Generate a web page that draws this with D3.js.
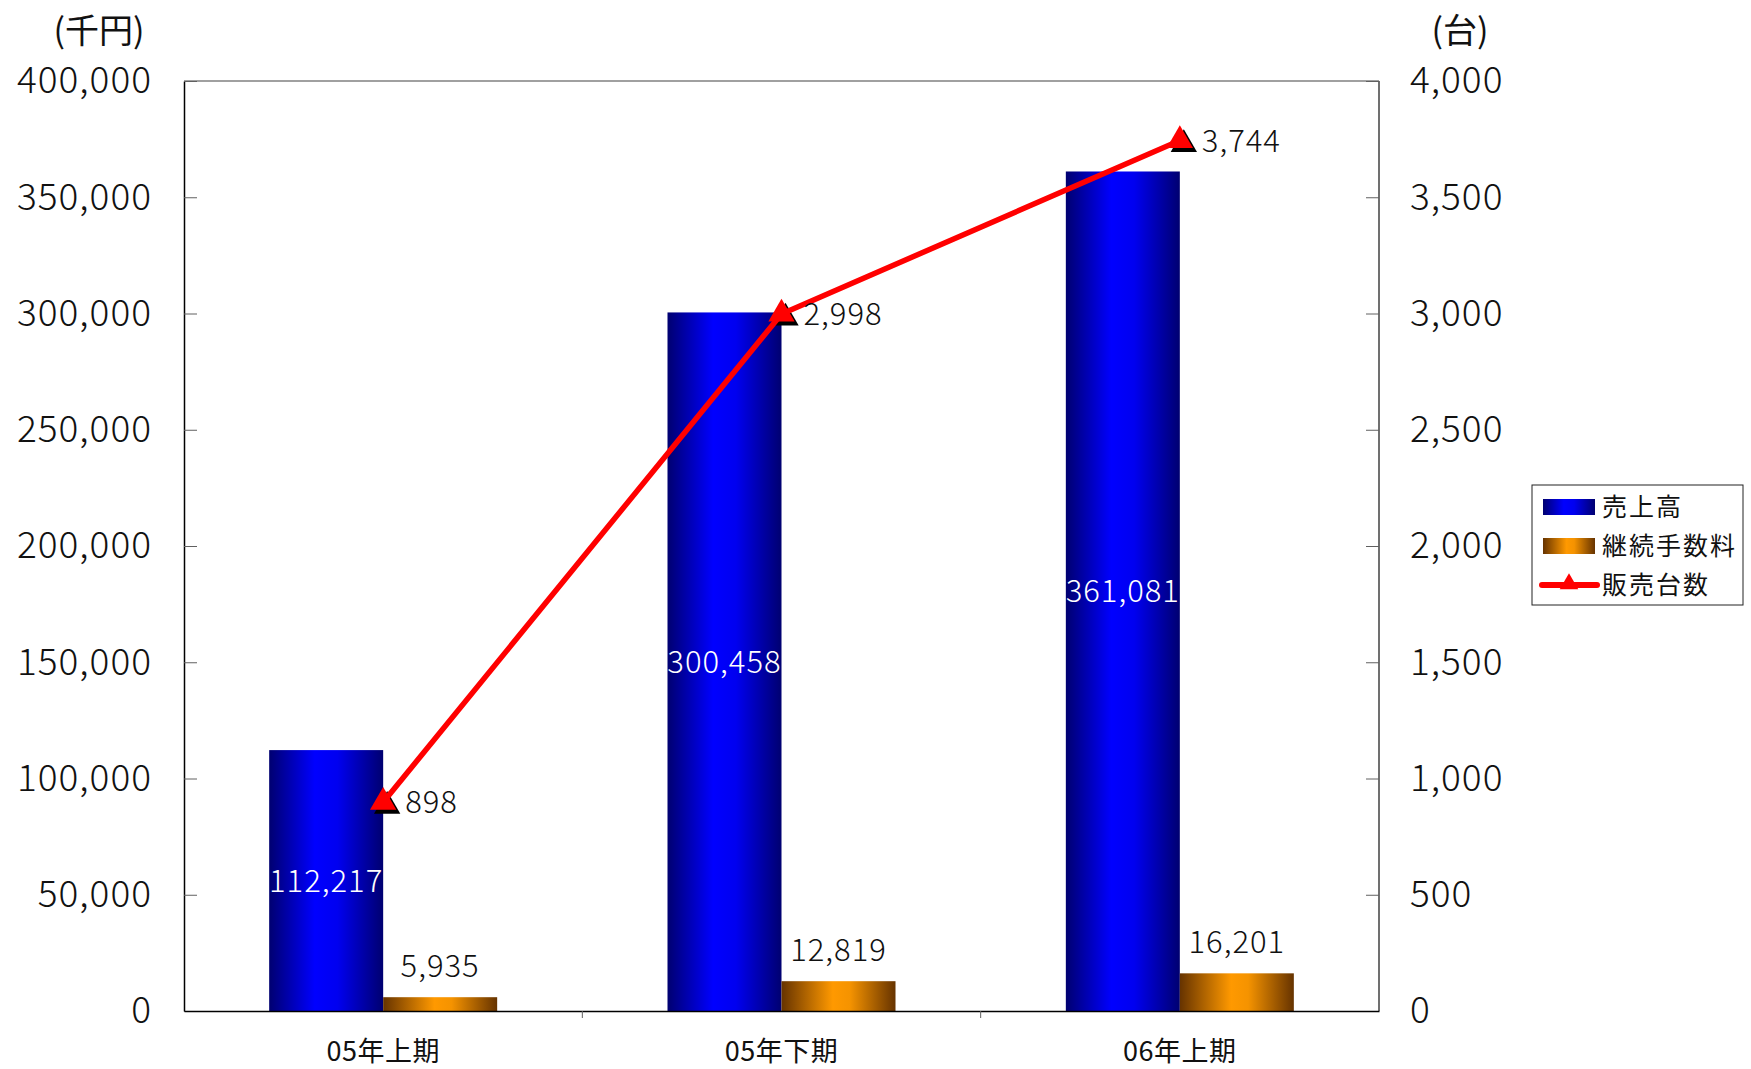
<!DOCTYPE html>
<html><head><meta charset="utf-8">
<script src="https://cdn.jsdelivr.net/npm/d3@7"></script>
<style>body{margin:0;background:#fff;} text{font-family:"Noto Sans CJK JP","Noto Sans",sans-serif;font-weight:300;}</style>
</head><body>
<svg id="c" width="1751" height="1069"></svg>
<script>
const categories = ["05年上期", "05年下期", "06年上期"];
const sales = [112217, 300458, 361081];        // 売上高 (千円)
const fees = [5935, 12819, 16201];             // 継続手数料 (千円)
const units = [898, 2998, 3744];               // 販売台数 (台)
const leftTicks = [0, 50000, 100000, 150000, 200000, 250000, 300000, 350000, 400000];
const rightTicks = [0, 500, 1000, 1500, 2000, 2500, 3000, 3500, 4000];
const seriesNames = ["売上高", "継続手数料", "販売台数"];

const svg = d3.select("#c");
const L = 184, R = 1379, T = 81, B = 1011;
const fmt = d3.format(",");

const x = d3.scaleBand().domain(categories).range([L, R]).paddingInner(0).paddingOuter(0);
const yL = d3.scaleLinear().domain([0, 400000]).range([B, T]);
const yR = d3.scaleLinear().domain([0, 4000]).range([B, T]);

const defs = svg.append("defs");
const gb = defs.append("linearGradient").attr("id", "gBlue");
[[0, "#000070"], [0.4, "#0000ff"], [0.6, "#0000f0"], [1, "#000070"]].forEach(s => gb.append("stop").attr("offset", s[0]).attr("stop-color", s[1]));
const go = defs.append("linearGradient").attr("id", "gOrange");
[[0, "#663300"], [0.45, "#ff9900"], [0.6, "#f59300"], [1, "#663300"]].forEach(s => go.append("stop").attr("offset", s[0]).attr("stop-color", s[1]));

// plot frame
svg.append("line").attr("x1", L).attr("x2", R).attr("y1", T).attr("y2", T).attr("stroke", "#808080").attr("stroke-width", 1.5);
svg.append("line").attr("x1", R).attr("x2", R).attr("y1", T).attr("y2", B).attr("stroke", "#404040").attr("stroke-width", 1.5);

const bw = 114;
// bars
const gBars = svg.append("g");
gBars.selectAll("rect.s").data(sales).join("rect")
  .attr("x", (d, i) => x(categories[i]) + x.bandwidth() / 2 - bw)
  .attr("width", bw).attr("y", d => yL(d)).attr("height", d => B - yL(d))
  .attr("fill", "url(#gBlue)");
gBars.selectAll("rect.f").data(fees).join("rect").attr("class", "f")
  .attr("x", (d, i) => x(categories[i]) + x.bandwidth() / 2)
  .attr("width", bw).attr("y", d => yL(d)).attr("height", d => B - yL(d))
  .attr("fill", "url(#gOrange)");

// left axis
const axL = d3.axisLeft(yL).tickValues(leftTicks).tickFormat(fmt).tickSizeInner(-13).tickSizeOuter(0).tickPadding(32);
const gL = svg.append("g").attr("transform", `translate(${L},0)`).call(axL);
gL.select(".domain").attr("stroke", "#000").attr("stroke-width", 1.5);
gL.selectAll(".tick line").attr("stroke", "#606060");
gL.selectAll("text").attr("font-size", 37).attr("letter-spacing", 1).attr("fill", "#111");

const axR = d3.axisRight(yR).tickValues(rightTicks).tickFormat(fmt).tickSizeInner(-13).tickSizeOuter(0).tickPadding(31);
const gR = svg.append("g").attr("transform", `translate(${R},0)`).call(axR);
gR.select(".domain").remove();
gR.selectAll(".tick line").attr("stroke", "#606060");
gR.selectAll("text").attr("font-size", 37).attr("letter-spacing", 1).attr("fill", "#111");

// bottom axis
const axB = d3.axisBottom(x).tickSize(0).tickPadding(31);
const gB = svg.append("g").attr("transform", `translate(0,${B})`).call(axB);
gB.select(".domain").attr("stroke", "#000").attr("stroke-width", 1.5);
gB.selectAll("text").attr("font-size", 27).style("font-weight", 400).attr("letter-spacing", 0.5).attr("fill", "#111");
svg.append("g").selectAll("line").data(categories.slice(1)).join("line")
  .attr("x1", d => x(d)).attr("x2", d => x(d)).attr("y1", B).attr("y2", B + 7).attr("stroke", "#606060");

// unit labels
svg.append("text").attr("x", 99).attr("y", 43).attr("text-anchor", "middle").attr("font-size", 34).style("font-weight", 400).attr("fill", "#111").text("(千円)");
svg.append("text").attr("x", 1460).attr("y", 43).attr("text-anchor", "middle").attr("font-size", 34).style("font-weight", 400).attr("fill", "#111").text("(台)");

// bar labels
svg.append("g").selectAll("text").data(sales).join("text")
  .attr("x", (d, i) => x(categories[i]) + x.bandwidth() / 2 - bw / 2)
  .attr("y", d => (yL(d) + B) / 2 + 11)
  .attr("text-anchor", "middle").attr("font-size", 31).attr("letter-spacing", 1).attr("fill", "#fff").text(d => fmt(d));
svg.append("g").selectAll("text").data(fees).join("text")
  .attr("x", (d, i) => x(categories[i]) + x.bandwidth() / 2 + bw / 2)
  .attr("y", d => yL(d) - 20)
  .attr("text-anchor", "middle").attr("font-size", 31).attr("letter-spacing", 1).attr("fill", "#111").text(d => fmt(d));

// line
const cx = (d, i) => x(categories[i]) + x.bandwidth() / 2;
const line = d3.line().x((d, i) => cx(d, i)).y(d => yR(d));
const tri = d3.symbol().type(d3.symbolTriangle).size(300);
svg.append("g").selectAll("path").data(units).join("path")
  .attr("d", tri).attr("transform", (d, i) => `translate(${cx(d, i) + 4},${yR(d) + 4})`).attr("fill", "#000");
svg.append("path").datum(units).attr("d", line).attr("fill", "none").attr("stroke", "#ff0000").attr("stroke-width", 5.5);
svg.append("g").selectAll("path").data(units).join("path")
  .attr("d", tri).attr("transform", (d, i) => `translate(${cx(d, i)},${yR(d)})`).attr("fill", "#ff0000");
svg.append("g").selectAll("text").data(units).join("text")
  .attr("x", (d, i) => cx(d, i) + 22).attr("y", d => yR(d) + 11)
  .attr("font-size", 31).attr("letter-spacing", 1).attr("fill", "#111").text(d => fmt(d));

// legend
const lg = svg.append("g");
lg.append("rect").attr("x", 1532).attr("y", 485).attr("width", 211).attr("height", 120).attr("fill", "#fff").attr("stroke", "#222").attr("stroke-width", 1);
const ly = [507, 546, 585];
lg.append("rect").attr("x", 1543).attr("y", ly[0] - 8).attr("width", 52).attr("height", 16).attr("fill", "url(#gBlue)");
lg.append("rect").attr("x", 1543).attr("y", ly[1] - 8).attr("width", 52).attr("height", 16).attr("fill", "url(#gOrange)");
lg.append("line").attr("x1", 1542).attr("x2", 1597).attr("y1", ly[2]).attr("y2", ly[2]).attr("stroke", "#ff0000").attr("stroke-width", 6).attr("stroke-linecap", "round");
lg.append("path").attr("d", d3.symbol().type(d3.symbolTriangle).size(150)).attr("transform", `translate(1569,${ly[2] - 1})`).attr("fill", "#ff0000");
lg.selectAll("text.l").data(seriesNames).join("text")
  .attr("x", 1602).attr("y", (d, i) => ly[i] + 9).attr("font-size", 25).style("font-weight", 400).attr("letter-spacing", 2).attr("fill", "#111").text(d => d);
</script>
</body></html>
